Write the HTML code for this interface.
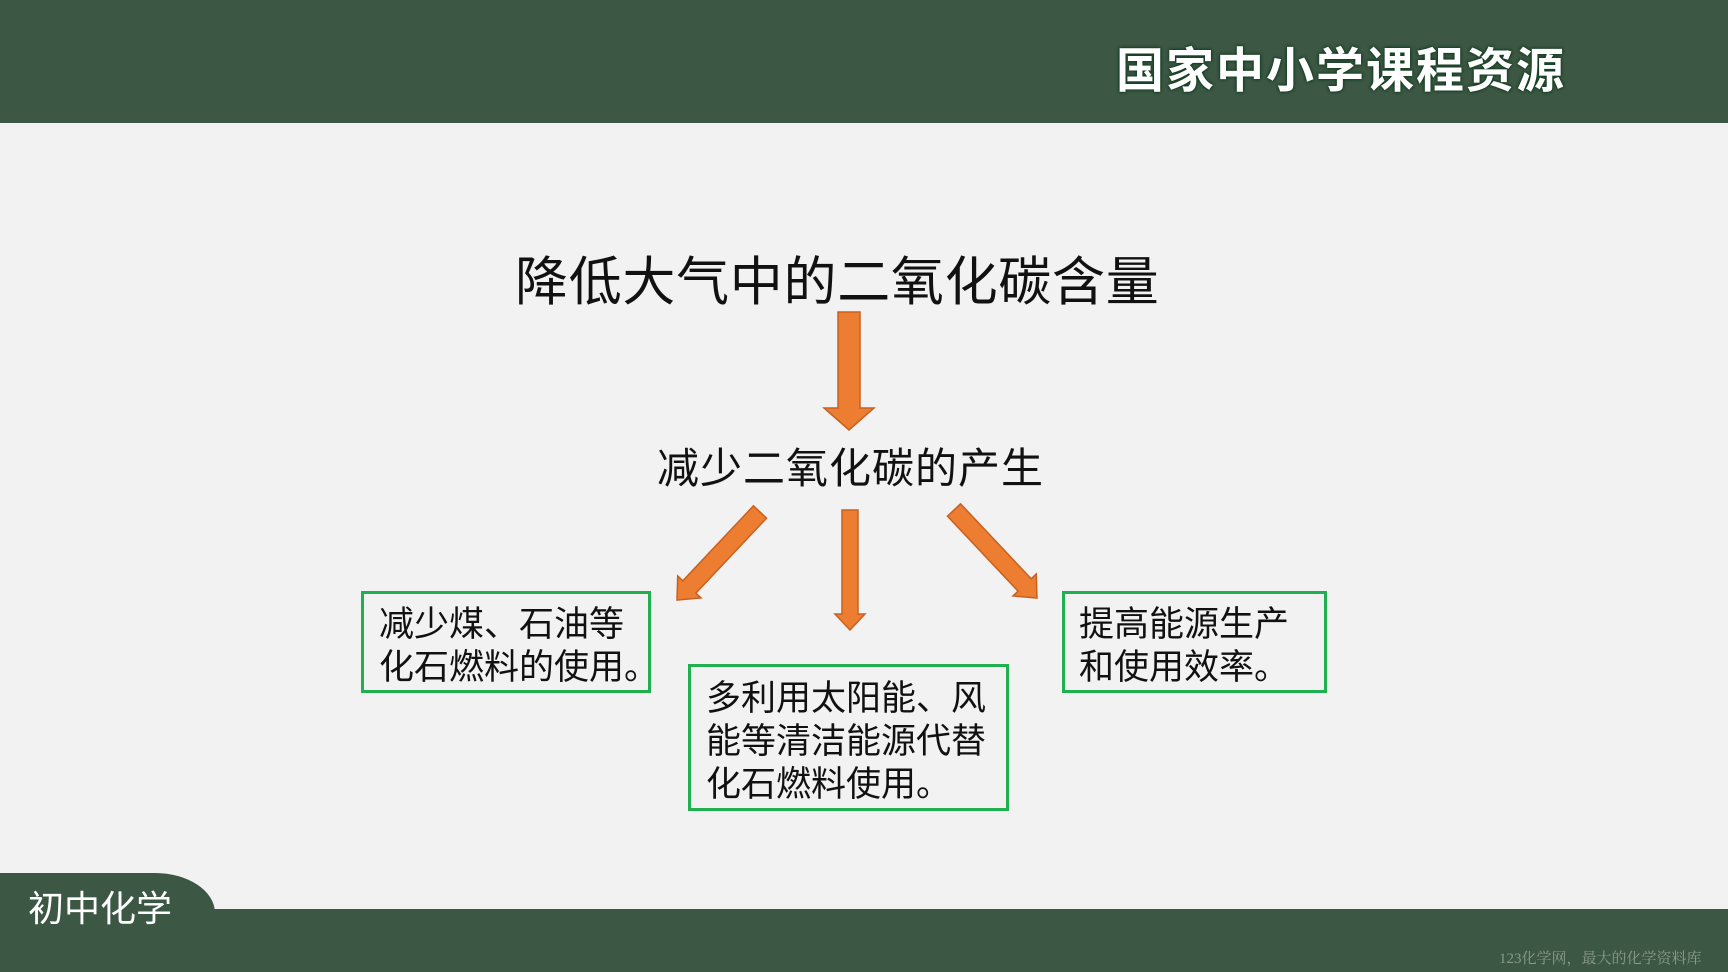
<!DOCTYPE html>
<html><head><meta charset="utf-8"><style>
html,body{margin:0;padding:0}
body{width:1728px;height:972px;position:relative;overflow:hidden;background:#f2f2f2;font-family:"Liberation Sans","Noto Sans CJK SC",sans-serif;}
.hdr{position:absolute;left:0;top:0;width:1728px;height:123px;background:#3c5744;}
.logo{position:absolute;left:1116px;top:43px;font-size:48px;color:#fff;letter-spacing:2px;line-height:58px;font-weight:bold;text-shadow:0 0 3px #0d3a1c,0 0 3px #0d3a1c;}
.ftr{position:absolute;left:0;top:909px;width:1728px;height:63px;background:#3c5744;}
.tab{position:absolute;left:0;top:873px;width:215px;height:60px;background:#3c5744;border-top-right-radius:60px 40px;}
.tabt{position:absolute;left:28px;top:888px;font-size:36px;color:#fff;line-height:42px;}
.wm{position:absolute;left:1499px;top:947px;font-size:15px;color:#8a9a8e;font-family:"Liberation Serif","Noto Serif CJK SC",serif;}
.t{position:absolute;color:#111;white-space:nowrap;}
.box{position:absolute;border:3px solid #20b050;box-sizing:border-box;font-size:35px;line-height:43px;color:#111;white-space:nowrap;}
</style></head><body>
<div class="hdr"></div>
<div class="logo">国家中小学课程资源</div>
<div class="t" style="left:515px;top:250px;font-size:53px;line-height:66px;letter-spacing:0.7px;">降低大气中的二氧化碳含量</div>
<div class="t" style="left:657px;top:444px;font-size:42px;line-height:50px;letter-spacing:1px;">减少二氧化碳的产生</div>
<svg width="1728" height="972" style="position:absolute;left:0;top:0" >
<g fill="#ed7d31" stroke="#c8611f" stroke-width="1.5">
<polygon transform="translate(849,312)" points="-11,0 11,0 11,96 25,96 0,118 -25,96 -11,96"/>
<polygon transform="translate(850,510)" points="-8,0 8,0 8,104 15,104 0,120 -15,104 -8,104"/>
<polygon transform="translate(760,512) rotate(43.3)" points="-9,0 9,0 9,103 16,103 0,121 -16,103 -9,103"/>
<polygon transform="translate(954,510) rotate(-43.3)" points="-9,0 9,0 9,103 16,103 0,121 -16,103 -9,103"/>
</g></svg>
<div class="box" style="left:361px;top:591px;width:290px;height:102px;padding:9px 0 0 15px;">减少煤、石油等<br>化石燃料的使用。</div>
<div class="box" style="left:688px;top:664px;width:321px;height:147px;padding:10px 0 0 15px;">多利用太阳能、风<br>能等清洁能源代替<br>化石燃料使用。</div>
<div class="box" style="left:1062px;top:591px;width:265px;height:102px;padding:9px 0 0 14px;">提高能源生产<br>和使用效率。</div>
<div class="tab"></div>
<div class="ftr"></div>
<div class="tabt">初中化学</div>
<div class="wm">123化学网，最大的化学资料库</div>
</body></html>
